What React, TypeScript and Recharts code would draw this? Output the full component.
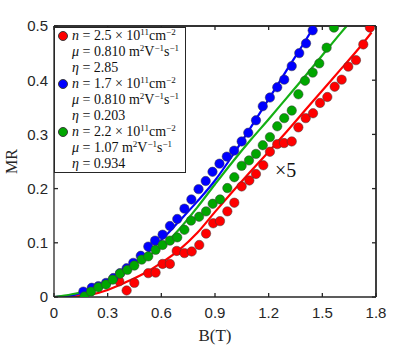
import { ComposedChart, Scatter, Line, XAxis, YAxis, Label, ReferenceLine } from 'recharts';

const xTicks = [0, 0.3, 0.6, 0.9, 1.2, 1.5, 1.8];
const yTicks = [0, 0.1, 0.2, 0.3, 0.4, 0.5];

// measured points (B in T, MR)
const redB = [0.365, 0.406, 0.449, 0.527, 0.568, 0.607, 0.648, 0.686, 0.729, 0.77, 0.812, 0.85, 0.89, 0.928, 0.969, 1.008, 1.049, 1.092, 1.129, 1.17, 1.207, 1.248, 1.286, 1.329, 1.366, 1.407, 1.448, 1.487, 1.528, 1.569, 1.608, 1.645, 1.688, 1.729, 1.766];
const redMR = [0.029, 0.012, 0.026, 0.044, 0.045, 0.061, 0.061, 0.085, 0.081, 0.084, 0.096, 0.117, 0.136, 0.14, 0.158, 0.174, 0.204, 0.215, 0.227, 0.243, 0.268, 0.282, 0.284, 0.287, 0.313, 0.33, 0.339, 0.358, 0.369, 0.388, 0.401, 0.425, 0.437, 0.466, 0.497];

const blueB = [0.164, 0.211, 0.248, 0.291, 0.332, 0.369, 0.406, 0.443, 0.485, 0.527, 0.565, 0.607, 0.648, 0.689, 0.729, 0.768, 0.808, 0.848, 0.886, 0.925, 0.966, 1.007, 1.049, 1.086, 1.129, 1.167, 1.207, 1.248, 1.287, 1.329, 1.371, 1.409, 1.446];
const blueMR = [0.01, 0.017, 0.02, 0.026, 0.035, 0.044, 0.053, 0.063, 0.076, 0.093, 0.104, 0.115, 0.131, 0.144, 0.163, 0.18, 0.199, 0.214, 0.231, 0.246, 0.259, 0.27, 0.287, 0.303, 0.326, 0.352, 0.368, 0.387, 0.401, 0.426, 0.45, 0.468, 0.492];

const greenB = [0.17, 0.207, 0.248, 0.291, 0.328, 0.369, 0.41, 0.449, 0.49, 0.527, 0.568, 0.607, 0.648, 0.689, 0.729, 0.766, 0.811, 0.85, 0.887, 0.928, 0.969, 1.008, 1.049, 1.09, 1.129, 1.167, 1.207, 1.248, 1.287, 1.329, 1.366, 1.403, 1.446, 1.483, 1.524, 1.565];
const greenMR = [0.001, 0.01, 0.018, 0.023, 0.032, 0.043, 0.05, 0.058, 0.069, 0.075, 0.087, 0.096, 0.104, 0.11, 0.124, 0.141, 0.148, 0.158, 0.172, 0.18, 0.201, 0.221, 0.242, 0.252, 0.264, 0.28, 0.295, 0.315, 0.33, 0.344, 0.374, 0.399, 0.414, 0.431, 0.46, 0.497];

// fitted curves
const redFitB = [0, 0.1, 0.2, 0.3, 0.4, 0.5, 0.6, 0.7, 0.8, 0.9, 1.0, 1.1, 1.2, 1.3, 1.4, 1.5, 1.6, 1.7, 1.775];
const redFitMR = [0, 0.001, 0.004, 0.013, 0.027, 0.043, 0.063, 0.087, 0.118, 0.157, 0.195, 0.232, 0.268, 0.305, 0.343, 0.381, 0.419, 0.457, 0.488];

const blueFitB = [0, 0.1, 0.2, 0.3, 0.4, 0.5, 0.6, 0.7, 0.8, 0.9, 1.0, 1.1, 1.2, 1.3, 1.4, 1.455];
const blueFitMR = [0, 0.003, 0.012, 0.027, 0.048, 0.075, 0.105, 0.14, 0.176, 0.215, 0.262, 0.313, 0.365, 0.418, 0.47, 0.5];

const greenFitB = [0, 0.1, 0.2, 0.3, 0.4, 0.5, 0.6, 0.7, 0.8, 0.9, 1.0, 1.1, 1.2, 1.3, 1.4, 1.5, 1.6, 1.636];
const greenFitMR = [0, 0.005, 0.014, 0.03, 0.05, 0.071, 0.092, 0.125, 0.165, 0.208, 0.25, 0.29, 0.328, 0.367, 0.406, 0.446, 0.486, 0.5];

const zip = (b: number[], mr: number[]) => b.map((v, i) => ({ b: v, mr: mr[i] }));

const RED = '#ff0000';
const BLUE = '#0000ff';
const GREEN_DOT = '#00a600';
const GREEN_LINE = '#14b014';
const AXIS = '#262626';

const dot = (fill: string) => (p: any) => (
  <circle cx={p.cx} cy={p.cy} r={4.7} fill={fill} stroke="#3a3a3a" strokeWidth={0.5} />
);

const tickFont = { fontFamily: 'Liberation Sans, Arial, sans-serif', fontSize: 15, fill: AXIS };
const serif = 'Liberation Serif, Times New Roman, serif';

function Row({ color, children }: { color?: string; children: any }) {
  return (
    <div style={{ height: 16, lineHeight: '16px', whiteSpace: 'nowrap', position: 'relative', paddingLeft: 17 }}>
      {color && (
        <span style={{ position: 'absolute', left: 3, top: 3, width: 10, height: 10, borderRadius: '50%', background: color, boxSizing: 'border-box', border: '0.5px solid #3a3a3a' }} />
      )}
      {children}
    </div>
  );
}

const sup = (s: string) => <sup style={{ fontSize: 9, verticalAlign: 0, position: 'relative', top: -5 }}>{s}</sup>;

function Entry({ color, n, mu, eta }: { color: string; n: string; mu: string; eta: string }) {
  return (
    <>
      <Row color={color}>
        <i>n</i> = {n} × 10{sup('11')}cm{sup('−2')}
      </Row>
      <Row>
        <i>μ</i> = {mu} m{sup('2')}V{sup('−1')}s{sup('−1')}
      </Row>
      <Row>
        <i>η</i> = {eta}
      </Row>
    </>
  );
}

export default function App() {
  return (
    <div style={{ position: 'absolute', left: 0, top: 0, width: 415, height: 346, background: '#fff' }}>
      <ComposedChart width={415} height={346} margin={{ top: 25, right: 38, left: 0, bottom: 0 }}>
        <XAxis
          dataKey="b"
          type="number"
          domain={[0, 1.8]}
          ticks={xTicks}
          allowDataOverflow
          height={49}
          stroke={AXIS}
          strokeWidth={1.3}
          tickSize={-4}
          tickMargin={14}
          tick={tickFont}
          tickFormatter={(v: number) => String(v)}
        >
          <Label value="B(T)" position="insideBottom" offset={5} style={{ fontFamily: serif, fontSize: 17, fill: AXIS }} />
        </XAxis>
        <XAxis
          xAxisId="top"
          dataKey="b"
          type="number"
          orientation="top"
          domain={[0, 1.8]}
          ticks={xTicks}
          allowDataOverflow
          height={1}
          stroke={AXIS}
          strokeWidth={1.3}
          tickSize={-4}
          tick={() => <g />}
        />
        <YAxis
          dataKey="mr"
          type="number"
          domain={[0, 0.5]}
          ticks={yTicks}
          allowDataOverflow
          width={54}
          stroke={AXIS}
          strokeWidth={1.3}
          tickSize={-4}
          tickMargin={10}
          tick={tickFont}
          tickFormatter={(v: number) => String(v)}
        >
          <Label value="MR" angle={-90} position="insideLeft" offset={11} style={{ fontFamily: serif, fontSize: 16, fill: AXIS, textAnchor: 'middle' }} />
        </YAxis>
        <YAxis
          yAxisId="right"
          dataKey="mr"
          type="number"
          orientation="right"
          domain={[0, 0.5]}
          ticks={yTicks}
          allowDataOverflow
          width={1}
          stroke={AXIS}
          strokeWidth={1.3}
          tickSize={-4}
          tick={() => <g />}
        />
        <ReferenceLine y={0.5} stroke={AXIS} strokeWidth={1.3} />
        <ReferenceLine x={1.8} stroke={AXIS} strokeWidth={1.3} />
        <Scatter data={zip(redB, redMR)} dataKey="mr" fill={RED} shape={dot(RED)} isAnimationActive={false} />
        <Line data={zip(redFitB, redFitMR)} dataKey="mr" type="monotone" stroke={RED} strokeWidth={2.2} dot={false} activeDot={false} isAnimationActive={false} />
        <Scatter data={zip(blueB, blueMR)} dataKey="mr" fill={BLUE} shape={dot(BLUE)} isAnimationActive={false} />
        <Line data={zip(blueFitB, blueFitMR)} dataKey="mr" type="monotone" stroke={BLUE} strokeWidth={2.2} dot={false} activeDot={false} isAnimationActive={false} />
        <Scatter data={zip(greenB, greenMR)} dataKey="mr" fill={GREEN_DOT} shape={dot(GREEN_DOT)} isAnimationActive={false} />
        <Line data={zip(greenFitB, greenFitMR)} dataKey="mr" type="monotone" stroke={GREEN_LINE} strokeWidth={2.2} dot={false} activeDot={false} isAnimationActive={false} />
        {/* invisible series so the top and right frame axes get drawn */}
        <Line xAxisId="top" yAxisId="right" data={zip(greenFitB, greenFitMR)} dataKey="mr" stroke="none" dot={false} activeDot={false} isAnimationActive={false} />
      </ComposedChart>

      <div
        style={{
          position: 'absolute',
          left: 54,
          top: 27,
          width: 132,
          height: 146,
          boxSizing: 'border-box',
          border: `1.5px solid ${AXIS}`,
          background: '#fff',
          fontFamily: serif,
          fontSize: 14,
          color: '#111',
        }}
      >
        <Entry color={RED} n="2.5" mu="0.810" eta="2.85" />
        <Entry color={BLUE} n="1.7" mu="0.810" eta="0.203" />
        <Entry color={GREEN_DOT} n="2.2" mu="1.07" eta="0.934" />
      </div>

      <div style={{ position: 'absolute', left: 275, top: 159, fontFamily: serif, fontSize: 20, color: '#111' }}>×5</div>
    </div>
  );
}
